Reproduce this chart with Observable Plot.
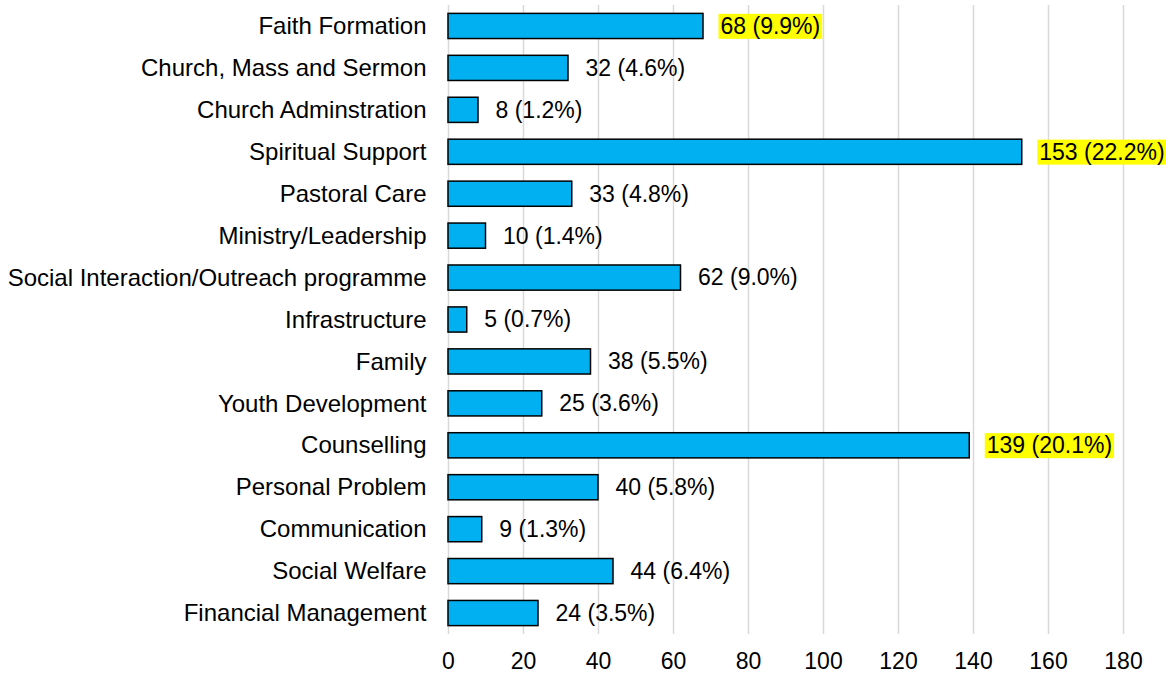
<!DOCTYPE html>
<html>
<head>
<meta charset="utf-8">
<script src="https://cdn.jsdelivr.net/npm/d3@7"></script>
<script src="https://cdn.jsdelivr.net/npm/@observablehq/plot@0.6"></script>
<style>
  html, body { margin: 0; padding: 0; background: #fff; }
  #chart { width: 1166px; height: 674px; overflow: hidden; }
  svg { font-family: "Liberation Sans", Arial, sans-serif; overflow: visible; }
</style>
</head>
<body>
<div id="chart"></div>
<script>
const categories = [
  "Faith Formation",
  "Church, Mass and Sermon",
  "Church Adminstration",
  "Spiritual Support",
  "Pastoral Care",
  "Ministry/Leadership",
  "Social Interaction/Outreach programme",
  "Infrastructure",
  "Family",
  "Youth Development",
  "Counselling",
  "Personal Problem",
  "Communication",
  "Social Welfare",
  "Financial Management"
];
const counts = [68, 32, 8, 153, 33, 10, 62, 5, 38, 25, 139, 40, 9, 44, 24];
const percents = ["9.9", "4.6", "1.2", "22.2", "4.8", "1.4", "9.0", "0.7", "5.5", "3.6", "20.1", "5.8", "1.3", "6.4", "3.5"];
const highlighted = ["Faith Formation", "Spiritual Support", "Counselling"];
const xTicks = [0, 20, 40, 60, 80, 100, 120, 140, 160, 180];

const data = categories.map((c, i) => ({
  category: c,
  count: counts[i],
  label: `${counts[i]} (${percents[i]}%)`,
  hl: highlighted.includes(c)
}));

const chart = Plot.plot({
  width: 1166,
  height: 674,
  marginLeft: 448,
  marginRight: 43,
  marginTop: 5,
  marginBottom: 40,
  style: { fontFamily: "Liberation Sans, Arial, sans-serif", fontSize: "24px", color: "#000", background: "#fff", overflow: "visible" },
  x: { domain: [0, 180], ticks: xTicks, label: null },
  y: { domain: categories, paddingInner: 0.4, paddingOuter: 0.2, round: false, label: null },
  marks: [
    Plot.ruleX(xTicks, { stroke: "#d9d9d9", strokeWidth: 1.5 }),
    Plot.barX(data, { x: "count", y: "category", fill: "#00B0F0", stroke: "#000", strokeWidth: 1.5 }),
    Plot.text(data, {
      x: "count", y: "category", text: "label",
      textAnchor: "start", dx: 17, fontSize: 23, fill: "#000"
    }),
    Plot.axisX({ ticks: xTicks, tickSize: 0, tickPadding: 18, fontSize: 23, label: null }),
    Plot.axisY({ tickSize: 0, tickPadding: 22, fontSize: 24, label: null })
  ]
});

document.getElementById("chart").appendChild(chart);

// highlight backgrounds for selected labels
const labelNodes = chart.querySelectorAll("g[aria-label='text'] text");
labelNodes.forEach((t, i) => {
  const d = data[i];
  if (d && d.hl) {
    const bb = t.getBBox();
    const r = document.createElementNS("http://www.w3.org/2000/svg", "rect");
    r.setAttribute("x", bb.x - 2);
    r.setAttribute("y", bb.y + 1);
    r.setAttribute("width", bb.width + 4);
    r.setAttribute("height", bb.height - 1);
    r.setAttribute("fill", "#FFFF00");
    const tr = t.getAttribute("transform");
    if (tr) r.setAttribute("transform", tr);
    t.parentNode.insertBefore(r, t);
  }
});
</script>
</body>
</html>
